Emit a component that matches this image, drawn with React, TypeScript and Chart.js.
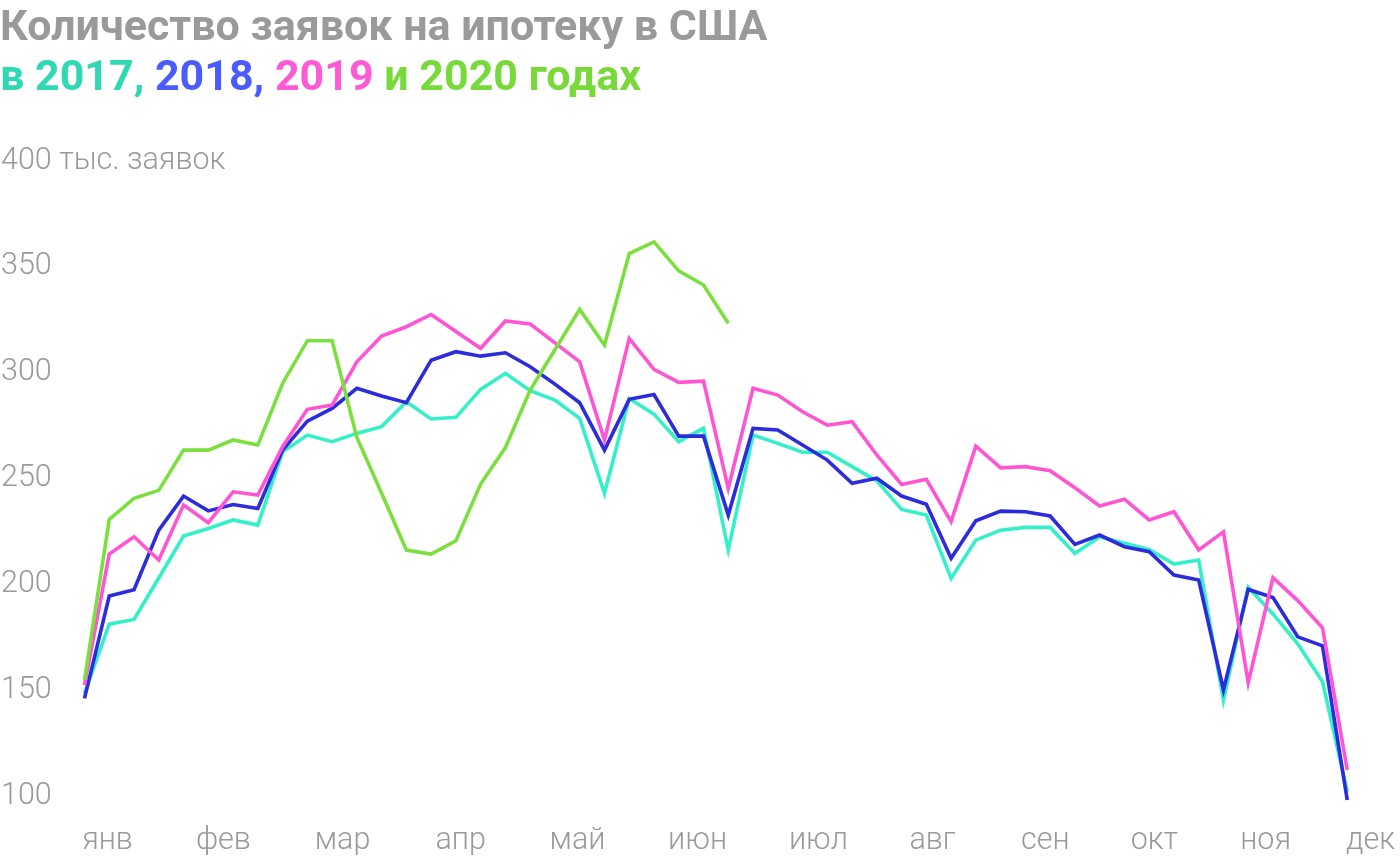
import React, { useEffect, useRef } from "react";
import { Chart, registerables } from "chart.js";

Chart.register(...registerables);

// Week index (x) for each weekly observation
const weeks: number[] = Array.from({ length: 52 }, (_, i) => i);

// Weekly mortgage applications, thousands
const series2017: number[] = [
  148.5, 181.2, 183.4, 203.0, 222.8, 226.4, 230.4, 228.0, 262.6, 270.5,
  267.4, 271.3, 274.5, 286.2, 278.1, 278.9, 292.1, 299.7, 291.5, 287.1,
  278.4, 243.0, 287.8, 280.4, 267.4, 273.7, 216.2, 270.5, 266.6, 262.4,
  262.4, 255.6, 248.9, 235.4, 232.7, 202.8, 220.9, 225.6, 226.9, 226.9,
  214.6, 222.5, 219.4, 216.5, 209.6, 211.5, 145.3, 198.6, 186.0, 171.9,
  154.0, 102.0,
];
const series2018: number[] = [
  146.1, 194.5, 197.5, 225.6, 241.7, 234.7, 237.7, 235.8, 263.4, 277.1,
  283.1, 292.6, 289.0, 285.8, 305.9, 309.9, 307.8, 309.4, 302.8, 294.6,
  285.8, 263.4, 287.4, 289.7, 270.0, 270.0, 232.7, 273.7, 272.9, 265.8,
  258.7, 247.7, 250.1, 241.7, 237.8, 212.3, 230.0, 234.6, 234.3, 232.3,
  218.9, 223.3, 217.8, 215.4, 204.4, 202.0, 150.1, 197.6, 193.8, 175.2,
  170.9, 98.1,
];
const series2019: number[] = [
  152.4, 214.3, 222.5, 211.5, 237.5, 229.1, 243.7, 242.2, 265.0, 282.7,
  284.7, 305.1, 317.3, 321.7, 327.5, 319.5, 311.5, 324.4, 323.0, 314.1,
  305.1, 268.2, 316.2, 301.6, 295.4, 296.0, 245.3, 292.6, 289.4, 281.5,
  275.2, 276.8, 261.1, 247.2, 249.6, 229.6, 265.3, 255.0, 255.6, 253.7,
  245.6, 237.0, 240.2, 230.4, 234.3, 216.3, 224.8, 153.5, 203.1, 192.3,
  179.5, 112.3,
];
const series2020: number[] = [
  154.8, 230.7, 240.6, 244.4, 263.4, 263.4, 268.2, 265.8, 294.9, 315.1,
  315.1, 269.4, 243.0, 216.2, 214.3, 220.6, 247.4, 264.6, 291.8, 310.8,
  329.9, 313.0, 356.3, 361.8, 348.1, 341.4, 323.3,
];

// X-axis month labels and where they sit (in week units)
const monthLabels: string[] = ["янв", "фев", "мар", "апр", "май", "июн", "июл", "авг", "сен", "окт", "ноя", "дек"];
const monthTicks: number[] = [0.93, 5.61, 10.42, 15.19, 19.91, 24.76, 29.64, 34.25, 38.81, 43.21, 47.7, 51.94];

// Y-axis ticks
const yTicks: number[] = [100, 150, 200, 250, 300, 350, 400];
const yTopSuffix = " тыс. заявок";

const COLORS = {
  c2017: "#33F0C8",
  c2018: "#2C2CDC",
  c2019: "#FF55D2",
  c2020: "#7BE03E",
  t2017: "#2ED9B4",
  t2018: "#4A5CFF",
  t2019: "#FF5AD6",
  t2020: "#77D93A",
  gray: "#9a9a9a",
};

function toPoints(vals: number[]) {
  return vals.map((v, i) => ({ x: weeks[i], y: v }));
}

export default function App() {
  const ref = useRef<HTMLCanvasElement | null>(null);

  useEffect(() => {
    if (!ref.current) return;
    const font = { family: "Roboto", size: 30.5, weight: 300 as any, lineHeight: 1.2 };
    const line = (label: string, vals: number[], color: string) => ({
      label,
      data: toPoints(vals),
      borderColor: color,
      backgroundColor: color,
      borderWidth: 3.6,
      pointRadius: 0,
      pointHoverRadius: 0,
      tension: 0,
      fill: false,
      clip: false as any,
      borderJoinStyle: "miter" as const,
    });
    const chart = new Chart(ref.current, {
      type: "line",
      data: {
        datasets: [
          line("2020", series2020, COLORS.c2020),
          line("2019", series2019, COLORS.c2019),
          line("2018", series2018, COLORS.c2018),
          line("2017", series2017, COLORS.c2017),
        ],
      },
      options: {
        animation: false,
        responsive: false,
        devicePixelRatio: 1,
        layout: { padding: { top: 161, left: 0, right: 0, bottom: 0 } },
        plugins: { legend: { display: false }, tooltip: { enabled: false }, title: { display: false } },
        scales: {
          x: {
            type: "linear",
            min: -3.413,
            max: 53.13,
            grid: { display: false, drawTicks: false },
            border: { display: false },
            afterBuildTicks: (s: any) => {
              s.ticks = monthTicks.map((v) => ({ value: v }));
            },
            afterFit: (s: any) => {
              s.paddingLeft = 0;
              s.paddingRight = 0;
              s.height = 64;
            },
            ticks: {
              autoSkip: false,
              maxRotation: 0,
              minRotation: 0,
              padding: 27,
              color: COLORS.gray,
              font,
              callback: (_v: any, i: number) => monthLabels[i],
            },
          },
          y: {
            type: "linear",
            min: 100,
            max: 400,
            grid: { display: false, drawTicks: false },
            border: { display: false },
            afterBuildTicks: (s: any) => {
              s.ticks = yTicks.map((v) => ({ value: v }));
            },
            afterFit: (s: any) => {
              s.width = 0;
              s.paddingTop = 0;
              s.paddingBottom = 0;
            },
            ticks: {
              mirror: true,
              padding: 1,
              color: COLORS.gray,
              font,
              callback: (v: any) => (v === 400 ? `${v}${yTopSuffix}` : `${v}`),
            },
          },
        },
      },
    });
    return () => chart.destroy();
  }, []);

  return (
    <div style={{ position: "absolute", left: 0, top: 0, width: 1400, height: 860, background: "#fff" }}>
      <canvas ref={ref} width={1400} height={860} style={{ position: "absolute", left: 0, top: 0 }} />
      <div
        style={{
          position: "absolute",
          left: 0,
          top: 0,
          fontFamily: "Roboto",
          fontWeight: 700,
          fontSize: 43,
          lineHeight: "50px",
          color: COLORS.gray,
          whiteSpace: "nowrap",
        }}
      >
        <div>Количество заявок на ипотеку в США</div>
        <div>
          <span style={{ color: COLORS.t2017 }}>в 2017,</span>{" "}
          <span style={{ color: COLORS.t2018 }}>2018,</span>{" "}
          <span style={{ color: COLORS.t2019 }}>2019</span>{" "}
          <span style={{ color: COLORS.t2020 }}>и 2020 годах</span>
        </div>
      </div>
    </div>
  );
}
